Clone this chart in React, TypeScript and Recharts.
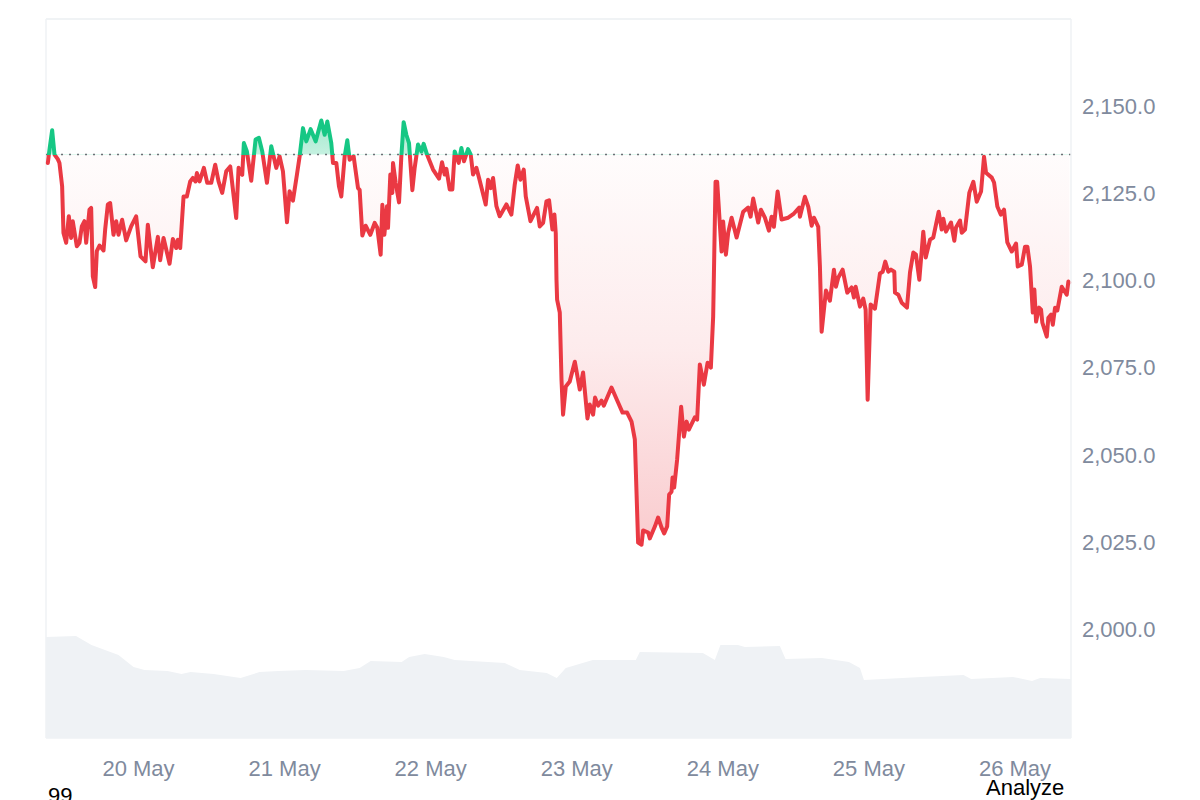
import { ComposedChart, Area, Line, XAxis, YAxis, CartesianGrid, ReferenceLine } from "recharts";

// hours since 20 May 00:00
const hours = [
  -14.9, -14.63, -14.19, -13.8, -13.26, -12.99, -12.55, -12.33, -11.89, -11.45, -11.07, -10.8, -10.14, -9.7, -9.32, -8.88, -8.6, -8.06, -7.78, -7.51,
  -7.12, -6.85, -6.41, -5.75, -5.48, -5.04, -4.66, -4.11, -3.67, -3.29, -2.69, -2.03, -1.21, -0.39, 0.33, 1.15, 1.53, 2.35, 3.18, 3.56,
  4.11, 5.1, 5.64, 6.19, 6.46, 6.85, 7.4, 7.94, 8.49, 8.93, 9.37, 9.59, 10.03, 10.74, 11.29, 11.95, 12.6, 13.15, 13.75, 14.41,
  15.07, 16.05, 16.44, 17.04, 17.31, 17.81, 18.52, 19.23, 19.78, 20.33, 21.1, 21.81, 22.63,
  23.18, 23.73, 24.39, 24.82, 25.37, 26.03, 26.47, 27.02, 27.56, 28.28, 29.1, 30.03, 30.58, 31.02, 31.67, 31.95, 32.5, 32.93, 33.32, 33.87,
  34.3, 34.69, 35.34, 36.06, 36.33, 36.77, 37.32, 38.08, 38.8, 39.23, 39.78, 40.06, 40.39, 40.82, 40.99, 41.37, 41.7, 41.81, 42.25, 42.8,
  43.18, 43.56, 44.0, 44.44, 44.99, 45.37, 45.92, 46.47, 46.85, 47.4, 48.39, 49.37, 49.86, 50.3, 50.58, 51.13, 51.56, 51.95, 52.6, 53.04,
  53.48, 54.14, 54.58, 54.96, 55.51, 55.95, 57.04, 57.43, 57.87, 58.25, 58.8, 59.34, 60.44, 61.26, 61.81, 62.3, 62.74, 63.29, 63.62, 64.39,
  65.48, 65.92, 66.47, 67.02, 67.45, 68.0, 68.33, 68.55,
  68.67, 68.77, 69.21, 69.49, 69.75, 70.2, 70.85, 71.68, 72.5, 73.04, 73.76, 74.14, 74.68, 75.01, 75.51, 76.06, 76.44, 77.71, 78.79, 79.52,
  80.27, 81.0, 81.54, 82.08, 82.64, 82.9, 83.73, 84.0, 84.83, 85.37, 85.93, 86.36, 86.85, 87.18, 87.57, 87.74, 88.0, 88.49, 89.15, 89.6,
  90.04, 90.42, 91.4, 91.78, 92.22, 92.88, 93.49, 94.03, 94.41, 94.8, 95.07, 95.79, 96.05, 96.5, 96.88, 97.44, 98.26, 99.34, 100.16, 100.56,
  100.99, 101.81, 102.25, 102.91, 103.57, 104.01, 104.39, 105.0, 105.65, 106.74, 107.68, 108.55, 108.66, 109.48, 110.03, 110.59, 110.97, 111.67, 111.95, 112.23,
  112.94, 113.59, 114.25, 114.58, 114.96, 115.68, 116.44, 117.16, 117.54, 117.82, 118.53, 119.07, 119.46, 119.79, 120.28, 120.99, 121.81, 122.26, 122.68, 123.18,
  123.62, 124.17, 124.28, 124.83, 125.39, 126.25, 126.75, 127.29, 127.73, 128.28, 128.93, 129.33, 130.04, 130.57, 131.46, 131.96, 132.22, 132.66, 133.49, 134.03,
  134.31, 134.97, 135.25, 135.79, 136.5, 137.16, 137.71, 138.42, 138.91, 139.24, 140.18, 140.56, 141.1, 141.66, 142.2, 142.74, 143.47, 144.17, 144.45, 145.11,
  145.65, 146.03, 146.47, 146.92, 147.18, 147.46, 147.95, 148.28, 148.49, 149.22, 149.48, 149.93, 150.21, 150.58, 150.96, 151.68, 152.5, 152.77, 152.93,
];

const prices = [
  2133.7, 2137.5, 2143.1, 2136.1, 2134.8, 2133.7, 2127.0, 2113.6, 2110.8, 2118.4, 2112.2, 2117.0, 2109.8, 2110.8, 2115.5, 2117.0, 2110.8, 2120.3, 2120.8, 2101.2,
  2098.1, 2108.4, 2110.0, 2108.6, 2114.6, 2121.8, 2122.2, 2113.1, 2117.0, 2113.1, 2117.4, 2111.5, 2115.5, 2118.4, 2106.9, 2105.5, 2116.0, 2103.8, 2112.5, 2105.8,
  2112.2, 2104.8, 2111.9, 2109.3, 2111.7, 2109.3, 2124.1, 2124.1, 2128.4, 2129.4, 2128.4, 2130.8, 2128.4, 2132.3, 2128.0, 2128.0, 2133.2, 2128.4, 2125.1, 2131.3,
  2132.7, 2117.9, 2132.3, 2130.3, 2139.4, 2137.0, 2128.6, 2140.4, 2140.9, 2137.0, 2128.0, 2138.5, 2132.3,
  2135.6, 2131.3, 2116.7, 2125.6, 2122.9, 2130.4, 2135.6, 2143.7, 2139.9, 2143.4, 2139.9, 2145.9, 2141.8, 2145.6, 2139.4, 2133.7, 2133.7, 2127.0, 2124.1, 2135.6,
  2140.2, 2134.6, 2135.6, 2126.5, 2126.0, 2112.9, 2115.7, 2113.1, 2116.5, 2115.1, 2107.4, 2121.7, 2113.1, 2121.3, 2115.1, 2130.4, 2125.1, 2133.7, 2128.0, 2122.4,
  2135.6, 2145.4, 2141.8, 2139.4, 2125.9, 2132.3, 2139.0, 2137.0, 2139.2, 2136.1, 2131.8, 2129.2, 2133.9, 2130.4, 2132.0, 2126.1, 2126.1, 2137.0, 2133.7, 2138.0,
  2134.2, 2137.7, 2136.1, 2130.4, 2132.3, 2129.4, 2121.8, 2128.9, 2126.5, 2129.4, 2121.3, 2118.4, 2121.8, 2118.9, 2127.5, 2133.0, 2128.9, 2131.8, 2124.1, 2117.0,
  2120.8, 2115.5, 2116.5, 2122.7, 2123.0, 2114.6, 2118.9, 2113.6,
  2100.2, 2094.5, 2090.8, 2071.6, 2061.5, 2069.6, 2071.0, 2076.7, 2068.7, 2073.6, 2060.4, 2064.4, 2061.5, 2066.4, 2064.1, 2065.5, 2064.1, 2069.3, 2065.0, 2062.1,
  2062.1, 2059.5, 2054.4, 2024.8, 2024.2, 2028.3, 2027.7, 2026.0, 2029.4, 2032.0, 2029.1, 2027.4, 2029.4, 2038.6, 2039.4, 2043.5, 2040.6, 2048.6, 2063.8, 2055.2,
  2059.5, 2057.2, 2060.7, 2060.1, 2075.9, 2070.1, 2076.4, 2075.0, 2089.6, 2128.3, 2128.3, 2108.3, 2116.9, 2107.4, 2113.7, 2118.0, 2112.3, 2119.7, 2120.9, 2118.3,
  2123.5, 2116.6, 2120.3, 2118.0, 2114.3, 2118.3, 2115.4, 2125.5, 2117.5, 2118.0, 2119.2, 2120.9, 2118.3, 2124.0, 2121.2, 2115.7, 2118.0, 2115.4, 2104.0, 2085.3,
  2097.1, 2094.2, 2103.1, 2098.2, 2100.8, 2103.1, 2096.5, 2098.0, 2095.1, 2098.2, 2092.5, 2094.8, 2091.6, 2065.8, 2093.1, 2091.9, 2102.0, 2102.5, 2105.4, 2102.5,
  2103.1, 2102.5, 2096.5, 2095.9, 2093.6, 2092.2, 2102.3, 2108.0, 2107.4, 2100.2, 2114.0, 2106.6, 2111.7, 2112.3, 2119.7, 2114.6, 2117.7, 2114.0, 2116.6, 2111.4,
  2115.2, 2117.2, 2113.7, 2114.6, 2125.2, 2128.3, 2122.6, 2125.5, 2135.5, 2130.9, 2129.5, 2128.1, 2121.2, 2118.9, 2120.3, 2110.9, 2108.3, 2110.6, 2104.0, 2104.5,
  2109.7, 2109.7, 2104.0, 2090.8, 2097.4, 2088.2, 2092.2, 2091.6, 2087.9, 2083.9, 2089.3, 2090.2, 2087.3, 2092.2, 2091.4, 2098.2, 2095.9, 2099.7, 2099.4,
];

const volumeHours = [
  -15.2, -10.27, -7.73, -3.29, -0.82, 0.99, 4.77, 7.07, 8.55, 12.33, 16.77, 19.89, 23.01, 27.45, 33.7, 36.33, 38.14, 43.23, 44.47, 47.02,
  50.14, 51.95, 60.17, 62.63, 67.07, 68.72, 70.2, 74.63, 81.7, 82.36, 92.72, 94.69, 95.6, 98.47, 99.62, 105.37, 106.3, 112.28, 116.72, 118.53,
  119.18, 128.64, 135.54, 136.78, 143.68, 146.8, 148.12, 153.2,
];
const volumes = [
  10.1, 10.2, 9.3, 8.3, 7.1, 6.8, 6.7, 6.4, 6.6, 6.4, 6.0, 6.6, 6.7, 6.8, 6.7, 7.0, 7.7, 7.6, 8.1, 8.4,
  8.1, 7.8, 7.5, 6.8, 6.5, 6.0, 7.0, 7.8, 7.8, 8.6, 8.5, 7.8, 9.3, 9.3, 9.1, 9.2, 7.9, 8.0, 7.6, 7.0,
  5.8, 6.1, 6.3, 5.9, 6.1, 5.7, 6.0, 5.9,
];

const dayTicks = [0, 24, 48, 72, 96, 120, 144];
const dayLabels = ["20 May", "21 May", "22 May", "23 May", "24 May", "25 May", "26 May"];
const priceTicks = [2000, 2025, 2050, 2075, 2100, 2125, 2150];
const basePrice = 2136.1;

const UP = "#16c784";
const DOWN = "#ea3943";
const GRID = "#eff2f5";
const MUTED = "#808a9d";
const FONT = '"Liberation Sans", Arial, sans-serif';

const priceRows = hours.map((hour, i) => ({ hour, price: prices[i] }));
const volumeRows = volumeHours.map((hour, i) => ({ hour, volume: volumes[i] }));

// where the baseline sits inside the price path's bounding box
const maxPrice = Math.max(...prices);
const minPrice = Math.min(...prices);
const split = (maxPrice - basePrice) / (maxPrice - minPrice);

export default function App() {
  return (
    <div style={{ position: "absolute", left: 0, top: 0, width: 1200, height: 800, overflow: "hidden", background: "#fff", fontFamily: FONT }}>
      <ComposedChart width={1200} height={800} data={priceRows} margin={{ top: 19, right: 0, bottom: 0, left: 46 }}>
        <defs>
          <linearGradient id="lineSplit" x1="0" y1="0" x2="0" y2="1">
            <stop offset={split} stopColor={UP} />
            <stop offset={split} stopColor={DOWN} />
          </linearGradient>
          <linearGradient id="fillSplit" x1="0" y1="0" x2="0" y2="1">
            <stop offset={0} stopColor={UP} stopOpacity={0.4} />
            <stop offset={split} stopColor={UP} stopOpacity={0.25} />
            <stop offset={split} stopColor={DOWN} stopOpacity={0.015} />
            <stop offset={split + (1 - split) * 0.5} stopColor={DOWN} stopOpacity={0.1} />
            <stop offset={1} stopColor={DOWN} stopOpacity={0.26} />
          </linearGradient>
        </defs>
        <CartesianGrid vertical={false} stroke={GRID} strokeWidth={1.5} />
        <XAxis
          dataKey="hour"
          type="number"
          domain={[-15.2, 153.2]}
          ticks={dayTicks}
          tickFormatter={(h: number) => dayLabels[dayTicks.indexOf(h)]}
          height={62}
          axisLine={false}
          tickLine={false}
          tickMargin={16}
          tick={{ fontSize: 22, fill: MUTED, fontFamily: FONT }}
        />
        <YAxis
          yAxisId="price"
          orientation="right"
          domain={[1968.75, 2175]}
          ticks={priceTicks}
          width={129}
          axisLine={{ stroke: GRID, strokeWidth: 1.5 }}
          tickLine={false}
          tickMargin={5}
          tickFormatter={(v: number) => v.toLocaleString("en-US", { minimumFractionDigits: 1 })}
          tick={{ fontSize: 22, fill: MUTED, fontFamily: FONT }}
        />
        <YAxis yAxisId="volume" hide domain={[0, 71.9]} />
        <ReferenceLine yAxisId="price" y={2175} stroke={GRID} strokeWidth={1.5} />
        <ReferenceLine yAxisId="price" x={-15.2} stroke={GRID} strokeWidth={1.5} />
        <Area
          yAxisId="volume"
          data={volumeRows}
          type="linear"
          dataKey="volume"
          stroke="none"
          fill={GRID}
          fillOpacity={1}
          dot={false}
          activeDot={false}
          isAnimationActive={false}
        />
        <Area
          yAxisId="price"
          type="linear"
          dataKey="price"
          baseValue={basePrice}
          stroke="none"
          fill="url(#fillSplit)"
          fillOpacity={1}
          dot={false}
          activeDot={false}
          isAnimationActive={false}
        />
        <ReferenceLine yAxisId="price" y={basePrice} stroke="#6b6f76" strokeWidth={1.5} strokeDasharray="2 6" />
        <Line
          yAxisId="price"
          type="linear"
          dataKey="price"
          stroke="url(#lineSplit)"
          strokeWidth={4}
          strokeLinejoin="round"
          strokeLinecap="round"
          dot={false}
          activeDot={false}
          isAnimationActive={false}
        />
      </ComposedChart>
      <div style={{ position: "absolute", left: 48, top: 783, fontSize: 22, color: "#000" }}>99</div>
      <div style={{ position: "absolute", left: 986, top: 775, fontSize: 22, color: "#000" }}>Analyze</div>
    </div>
  );
}
